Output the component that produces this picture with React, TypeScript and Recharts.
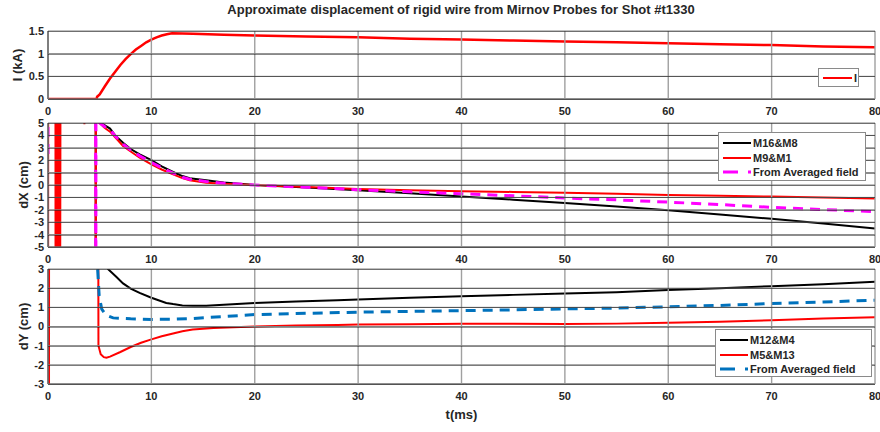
import React from 'react';
import { LineChart, Line, XAxis, YAxis } from 'recharts';

// ---------- data ----------
const X_TICKS = [0, 10, 20, 30, 40, 50, 60, 70, 80];
const I_TICKS = [0, 0.5, 1, 1.5];
const DX_TICKS = [-5, -4, -3, -2, -1, 0, 1, 2, 3, 4, 5];
const DY_TICKS = [-3, -2, -1, 0, 1, 2, 3];

// Current I (kA)
const tI = [0, 2, 4.7, 4.75, 5, 5.5, 6, 6.5, 7, 7.5, 8, 8.5, 9, 9.5, 10, 10.5, 11, 11.5, 12, 14, 17, 20, 25, 30, 35, 40, 45, 50, 55, 60, 65, 70, 75, 80];
const vI = [0, 0, 0, 0.05, 0.1, 0.28, 0.45, 0.6, 0.75, 0.88, 0.99, 1.09, 1.17, 1.25, 1.31, 1.36, 1.4, 1.43, 1.45, 1.44, 1.42, 1.4, 1.38, 1.36, 1.33, 1.31, 1.29, 1.27, 1.25, 1.23, 1.21, 1.19, 1.16, 1.14];

// dX: M16&M8 (black)
const tDxBlack = [0, 0.01, 4.6, 4.63, 5.1, 5.5, 6, 6.5, 7.26, 8, 8.87, 10, 11, 12.1, 13, 13.7, 15.3, 17, 20, 25, 30, 35, 40, 45, 50, 55, 60, 65, 70, 75, 80];
const vDxBlack = [-3.7, -50, -50, 50, 5, 4.8, 4.55, 4.0, 3.4, 2.9, 2.47, 2.0, 1.5, 1.05, 0.72, 0.54, 0.38, 0.2, 0, -0.2, -0.43, -0.67, -0.92, -1.18, -1.46, -1.74, -2.03, -2.37, -2.73, -3.1, -3.5];

// dX: M9&M1 (red)
const tDxRed = [0, 0.03, 0.06, 0.7, 0.75, 0.85, 0.95, 1.05, 1.1, 1.2, 1.25, 3.5, 3.52, 3.54, 4.6, 4.62, 4.65, 5.0, 5.5, 6, 6.5, 7.26, 8, 8.87, 10, 11, 12.1, 13, 13.7, 15.3, 17, 20, 25, 30, 35, 40, 45, 50, 55, 60, 65, 70, 75, 80];
const vDxRed = [-50, 50, 50, 50, -50, 50, -50, 50, -50, 3.3, 50, 50, 4.9, 50, 50, -50, 50, 5.0, 4.6, 4.3, 3.85, 3.15, 2.7, 2.2, 1.67, 1.25, 0.86, 0.55, 0.38, 0.19, 0.1, 0, -0.17, -0.33, -0.43, -0.5, -0.56, -0.62, -0.7, -0.8, -0.87, -0.93, -1.0, -1.08];

// dX: From Averaged field (magenta)
const tDxAvg = [0, 0.02, 4.6, 4.62, 4.65, 5.0, 5.5, 6, 6.5, 7.26, 8, 8.87, 10, 11, 12.1, 13, 13.7, 15.3, 17, 20, 25, 30, 35, 40, 45, 50, 55, 60, 65, 70, 75, 80];
const vDxAvg = [2.5, 50, 50, -50, 50, 5.0, 4.7, 4.45, 3.95, 3.3, 2.82, 2.35, 1.82, 1.38, 0.95, 0.62, 0.46, 0.28, 0.15, 0, -0.18, -0.38, -0.55, -0.7, -0.87, -1.05, -1.2, -1.38, -1.58, -1.8, -1.98, -2.15];

// dY: M12&M4 (black)
const tDyBlack = [5.5, 5.8, 6.6, 7.26, 8, 8.86, 10, 11.44, 12.1, 13, 14, 15.3, 17, 20, 24, 28, 30, 35, 40, 45, 50, 55, 60, 65, 70, 75, 80];
const vDyBlack = [4, 3, 2.6, 2.25, 1.98, 1.75, 1.5, 1.23, 1.17, 1.1, 1.08, 1.08, 1.13, 1.23, 1.3, 1.37, 1.41, 1.5, 1.58, 1.65, 1.72, 1.79, 1.9, 2.0, 2.1, 2.2, 2.33];

// dY: M5&M13 (red)
const tDyRed = [0, 0.04, 0.08, 0.12, 4.75, 4.88, 5.1, 5.4, 5.65, 6, 7, 8, 9, 10, 11, 12, 13, 14, 16, 20, 24, 28, 30, 35, 40, 45, 50, 55, 60, 65, 70, 75, 80];
const vDyRed = [-50, 50, -50, 50, 50, -1.0, -1.45, -1.6, -1.63, -1.57, -1.33, -1.07, -0.85, -0.67, -0.51, -0.38, -0.25, -0.16, -0.08, 0, 0.05, 0.08, 0.1, 0.12, 0.14, 0.14, 0.13, 0.15, 0.19, 0.25, 0.33, 0.42, 0.48];

// dY: From Averaged field (blue)
const tDyAvg = [4.75, 4.78, 4.95, 5.2, 5.6, 6.3, 8, 10, 12, 14, 17, 20, 25, 30, 35, 40, 45, 50, 55, 60, 65, 70, 75, 80];
const vDyAvg = [50, 3.2, 1.6, 0.9, 0.6, 0.45, 0.4, 0.37, 0.38, 0.42, 0.52, 0.62, 0.69, 0.75, 0.79, 0.83, 0.87, 0.92, 0.96, 1.03, 1.1, 1.2, 1.28, 1.37];

const mk = (t: number[], v: number[]) => t.map((x, i) => ({ t: x, v: v[i] }));

// ---------- styles ----------
const FONT = '"Liberation Sans", Arial, sans-serif';
const TXT = '#262626';
const RED = '#ff0000';
const MAG = '#ff00ff';
const BLUE = '#0072bd';
const tickStyle = { fontSize: 11, fontWeight: 700, fill: TXT, fontFamily: FONT };
const CHART_W = 880;
const Y_AXIS_W = 48;
const M_RIGHT = 5;
const PLOT_W = CHART_W - Y_AXIS_W - M_RIGHT;
const X_AXIS_H = 20;

const yLabel = (text: string, cx: number) => (props: any) => {
  const vb = props.viewBox || {};
  const cy = (vb.y || 0) + (vb.height || 0) / 2;
  return (
    <text
      x={cx}
      y={cy}
      transform={`rotate(-90 ${cx} ${cy})`}
      textAnchor="middle"
      dominantBaseline="central"
      fontSize={13}
      fontWeight={700}
      fill={TXT}
      fontFamily={FONT}
    >
      {text}
    </text>
  );
};

type Series = { data: { t: number; v: number }[]; color: string; width: number; dash?: string };
type PanelCfg = {
  top: number;
  height: number;
  mTop: number;
  mBottom: number;
  domain: [number, number];
  ticks: number[];
  label: string;
  labelX: number;
  series: Series[];
  xLabel?: boolean;
};

const PANELS: PanelCfg[] = [
  {
    top: 0,
    height: 120,
    mTop: 31,
    mBottom: 1,
    domain: [0, 1.5],
    ticks: I_TICKS,
    label: 'I (kA)',
    labelX: 17,
    series: [{ data: mk(tI, vI), color: RED, width: 2.5 }],
  },
  {
    top: 110,
    height: 160,
    mTop: 13,
    mBottom: 3,
    domain: [-5, 5],
    ticks: DX_TICKS,
    label: 'dX (cm)',
    labelX: 23,
    series: [
      { data: mk(tDxBlack, vDxBlack), color: '#000', width: 2 },
      { data: mk(tDxRed, vDxRed), color: RED, width: 2 },
      { data: mk(tDxAvg, vDxAvg), color: MAG, width: 3, dash: '10 7' },
    ],
  },
  {
    top: 255,
    height: 177,
    mTop: 14,
    mBottom: 28,
    domain: [-3, 3],
    ticks: DY_TICKS,
    label: 'dY (cm)',
    labelX: 23,
    xLabel: true,
    series: [
      { data: mk(tDyBlack, vDyBlack), color: '#000', width: 2 },
      { data: mk(tDyRed, vDyRed), color: RED, width: 2 },
      { data: mk(tDyAvg, vDyAvg), color: BLUE, width: 3, dash: '10 7' },
    ],
  },
];

function Panel(props: PanelCfg) {
  const { top, height, mTop, mBottom, domain, ticks, label, labelX, series, xLabel } = props;
  const plotH = height - mTop - mBottom - X_AXIS_H;
  return (
    <div style={{ position: 'absolute', left: 0, top, width: CHART_W, height }}>
      <LineChart width={CHART_W} height={height} margin={{ top: mTop, right: M_RIGHT, bottom: mBottom, left: 0 }}>
        <XAxis
          dataKey="t"
          type="number"
          domain={[0, 80]}
          ticks={X_TICKS}
          interval={0}
          allowDataOverflow
          tickSize={-plotH}
          tickMargin={plotH + 8}
          tickLine={{ stroke: '#a0a0a0', strokeWidth: 1.4 }}
          height={X_AXIS_H}
          tick={tickStyle}
          axisLine={{ stroke: '#404040' }}
          label={xLabel ? { value: 't(ms)', position: 'bottom', offset: 6, style: { fontSize: 13, fontWeight: 700, fill: TXT, fontFamily: FONT } } : undefined}
        />
        <YAxis
          type="number"
          domain={domain}
          ticks={ticks}
          interval={0}
          allowDataOverflow
          width={Y_AXIS_W}
          tickSize={-PLOT_W}
          tickMargin={PLOT_W + 4}
          tickLine={{ stroke: '#808080', strokeWidth: 1 }}
          tick={tickStyle}
          axisLine={{ stroke: '#404040' }}
          label={yLabel(label, labelX)}
        />
        {series.map((s, i) => (
          <Line
            key={'s' + i}
            data={s.data}
            dataKey="v"
            type="linear"
            stroke={s.color}
            strokeWidth={s.width}
            strokeDasharray={s.dash}
            dot={false}
            activeDot={false}
            isAnimationActive={false}
          />
        ))}
      </LineChart>
    </div>
  );
}

// horizontal grid lines, positioned from each panel's tick array and plot box
function HGrid() {
  const lines: React.ReactNode[] = [];
  PANELS.forEach((p, pi) => {
    const plotTop = p.top + p.mTop;
    const plotH = p.height - p.mTop - p.mBottom - X_AXIS_H;
    const [lo, hi] = p.domain;
    p.ticks.forEach((v, i) => {
      const y = Math.round(plotTop + ((hi - v) / (hi - lo)) * plotH) + 0.5;
      lines.push(
        <line key={pi + '-' + i} x1={Y_AXIS_W} x2={Y_AXIS_W + PLOT_W} y1={y} y2={y} stroke="rgba(0,0,0,0.42)" strokeWidth={1} />
      );
    });
  });
  return (
    <svg width={880} height={432} style={{ position: 'absolute', left: 0, top: 0, pointerEvents: 'none' }}>
      {lines}
    </svg>
  );
}

function LegendBox(props: { left: number; top: number; width: number; height: number; items: { label: string; color: string; dash?: boolean }[]; rowH: number; lineLen: number }) {
  const { left, top, width, height, items, rowH, lineLen } = props;
  return (
    <div
      style={{
        position: 'absolute',
        left,
        top,
        width,
        height,
        boxSizing: 'border-box',
        background: '#fff',
        border: '1px solid #8a8a8a',
        paddingTop: 3,
        paddingLeft: 4,
      }}
    >
      {items.map((it, i) => (
        <div key={i} style={{ display: 'flex', alignItems: 'center', height: rowH }}>
          <svg width={lineLen} height={6} style={{ display: 'block' }}>
            <line
              x1={0}
              y1={3}
              x2={lineLen}
              y2={3}
              stroke={it.color}
              strokeWidth={it.dash ? 3 : 2}
              strokeDasharray={it.dash ? '15 10' : undefined}
            />
          </svg>
          <span style={{ fontFamily: FONT, fontSize: 11, fontWeight: 700, color: TXT, marginLeft: 2, whiteSpace: 'nowrap', lineHeight: '12px' }}>
            {it.label}
          </span>
        </div>
      ))}
    </div>
  );
}

export default function App() {
  return (
    <div style={{ position: 'absolute', left: 0, top: 0, width: 880, height: 432, background: '#fff', overflow: 'hidden', fontFamily: FONT }}>
      <div
        style={{
          position: 'absolute',
          left: 0,
          top: 2,
          width: 922,
          textAlign: 'center',
          fontSize: 13,
          fontWeight: 700,
          color: TXT,
          lineHeight: '16px',
          fontFamily: FONT,
        }}
      >
        Approximate displacement of rigid wire from Mirnov Probes for Shot #t1330
      </div>

      {PANELS.map((p, i) => (
        <Panel key={i} {...p} />
      ))}

      <HGrid />

      <LegendBox left={818} top={68} width={41} height={19} rowH={12} lineLen={29} items={[{ label: 'I', color: RED }]} />
      <LegendBox
        left={718}
        top={132}
        width={148}
        height={49}
        rowH={14.5}
        lineLen={28}
        items={[
          { label: 'M16&M8', color: '#000' },
          { label: 'M9&M1', color: RED },
          { label: 'From Averaged field', color: MAG, dash: true },
        ]}
      />
      <LegendBox
        left={715}
        top={329}
        width={157}
        height={48}
        rowH={14.5}
        lineLen={28}
        items={[
          { label: 'M12&M4', color: '#000' },
          { label: 'M5&M13', color: RED },
          { label: 'From Averaged field', color: BLUE, dash: true },
        ]}
      />
    </div>
  );
}
